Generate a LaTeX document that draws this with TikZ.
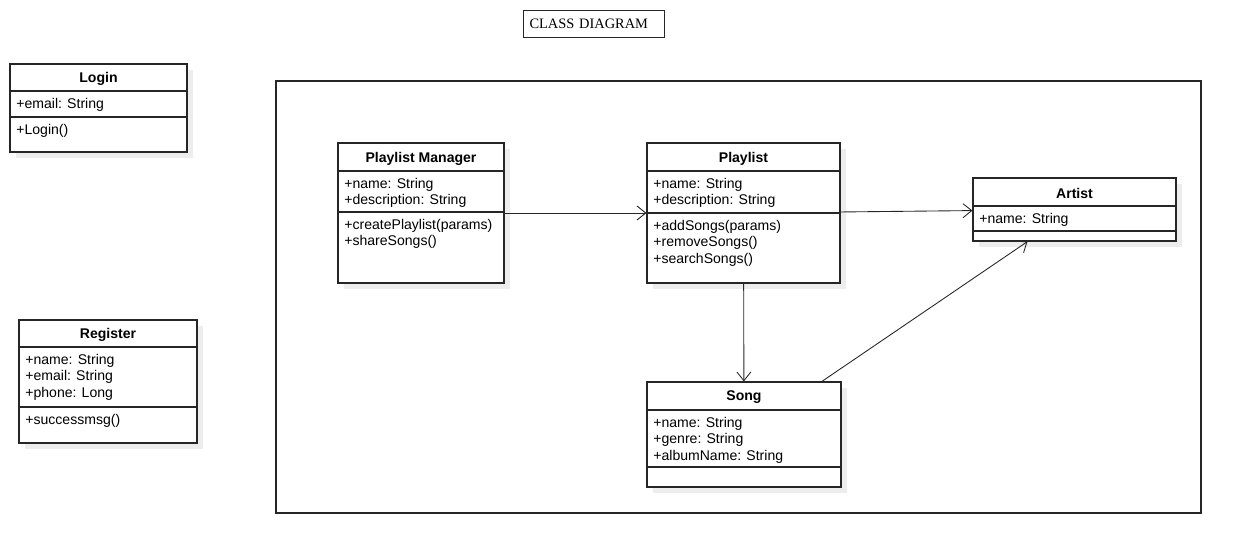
\documentclass[tikz,border=0pt]{standalone}
\usepackage{fontspec}
\setmainfont{Liberation Sans}
\newfontfamily\titleserif{Liberation Serif}
\usetikzlibrary{arrows.meta, fit, shadows}

\tikzset{
    classbox/.style={rectangle, draw=black!85, line width=0.65pt, fill=white, inner sep=0pt,
        drop shadow={shadow xshift=0.12cm, shadow yshift=-0.12cm, fill=black!7, draw=none, opacity=1}},
    classhead/.style={font=\fontsize{8}{9.4}\selectfont\bfseries, inner sep=0pt},
    member/.style={anchor=north west, align=left, inner sep=0pt, font=\fontsize{8}{9.4}\selectfont},
    divider/.style={draw=black!85, line width=0.65pt},
    assoc/.style={draw=black!85, line width=0.5pt, -{Straight Barb[length=5pt, width=8pt]}}
}

\begin{document}
\begin{tikzpicture}[x=0.02cm, y=-0.02cm]
    \useasboundingbox (0,0) rectangle (1246,557);

    % Title and frame
    \node (title) [draw=black!85, line width=0.6pt, anchor=north west, minimum width=2.82cm, minimum height=0.54cm,
        text width=2.58cm, inner xsep=0.12cm, align=left, font=\titleserif\fontsize{8.2}{9}\selectfont] at (523,10) {CLASS DIAGRAM};
    \node (frame) [rectangle, draw=black!85, line width=0.65pt, inner sep=0pt, fit={(276,81) (1201,513)}] {};

    % Login
    \node (login) [classbox, fit={(10,64) (187,152)}] {};
    \draw[divider] (login.west |- 0,91) -- (login.east |- 0,91);
    \draw[divider] (login.west |- 0,117) -- (login.east |- 0,117);
    \node (loginhead) [classhead] at (98.5,79) {Login};
    \node (loginattr) [member] at (16,97.5) {+email: String};
    \node (loginops) [member] at (16,123.5) {+Login()};

    % Register
    \node (register) [classbox, fit={(19,320) (197,443)}] {};
    \draw[divider] (register.west |- 0,347) -- (register.east |- 0,347);
    \draw[divider] (register.west |- 0,407) -- (register.east |- 0,407);
    \node (registerhead) [classhead] at (108,335) {Register};
    \node (registerattr) [member] at (25,353.5) {+name: String\\+email: String\\+phone: Long};
    \node (registerops) [member] at (25,413.5) {+successmsg()};

    % Playlist Manager
    \node (manager) [classbox, fit={(338,143) (504,283)}] {};
    \draw[divider] (manager.west |- 0,171) -- (manager.east |- 0,171);
    \draw[divider] (manager.west |- 0,212) -- (manager.east |- 0,212);
    \node (managerhead) [classhead] at (421,158.5) {Playlist Manager};
    \node (managerattr) [member] at (344,177.5) {+name: String\\+description: String};
    \node (managerops) [member] at (344,218.5) {+createPlaylist(params)\\+shareSongs()};

    % Playlist
    \node (playlist) [classbox, fit={(647,143) (840,283)}] {};
    \draw[divider] (playlist.west |- 0,171) -- (playlist.east |- 0,171);
    \draw[divider] (playlist.west |- 0,213) -- (playlist.east |- 0,213);
    \node (playlisthead) [classhead] at (743.5,158.5) {Playlist};
    \node (playlistattr) [member] at (653,177.5) {+name: String\\+description: String};
    \node (playlistops) [member] at (653,219.5) {+addSongs(params)\\+removeSongs()\\+searchSongs()};

    % Artist
    \node (artist) [classbox, fit={(973,178) (1176,241)}] {};
    \draw[divider] (artist.west |- 0,206) -- (artist.east |- 0,206);
    \draw[divider] (artist.west |- 0,231) -- (artist.east |- 0,231);
    \node (artisthead) [classhead] at (1074.5,193) {Artist};
    \node (artistattr) [member] at (979,212.5) {+name: String};

    % Song
    \node (song) [classbox, fit={(647,382) (841,487)}] {};
    \draw[divider] (song.west |- 0,410) -- (song.east |- 0,410);
    \draw[divider] (song.west |- 0,467) -- (song.east |- 0,467);
    \node (songhead) [classhead] at (744,397.5) {Song};
    \node (songattr) [member] at (653,416.5) {+name: String\\+genre: String\\+albumName: String};

    % Associations
    \draw[assoc] (manager) -- (playlist);
    \draw[assoc] (playlist) -- (artist);
    \draw[assoc] (playlist) -- (song);
    \draw[assoc] (song) -- (artist);
\end{tikzpicture}
\end{document}
